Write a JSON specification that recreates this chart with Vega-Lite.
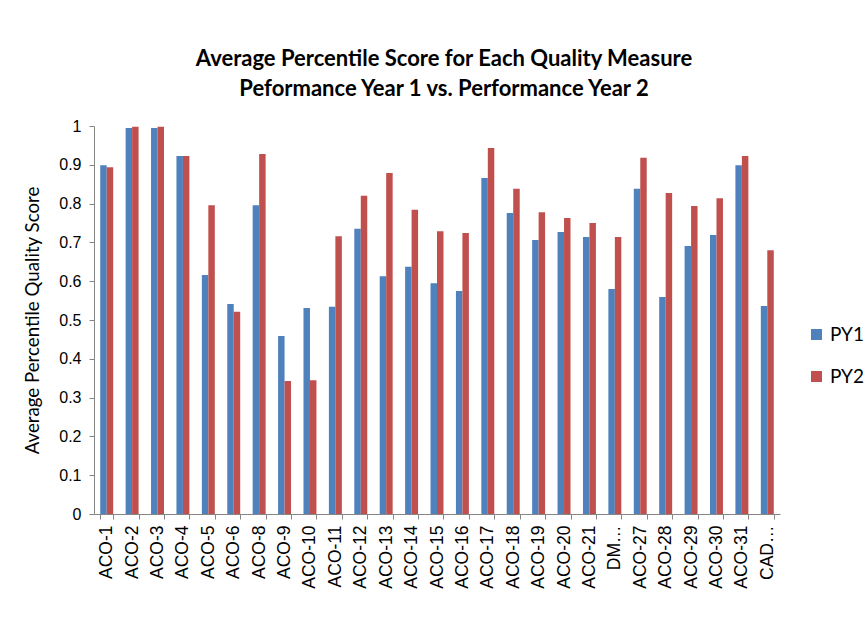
{
  "$schema": "https://vega.github.io/schema/vega-lite/v6.json",
  "autosize": {"type": "none"},
  "padding": {"left": 94, "top": 126, "right": 87, "bottom": 112},
  "width": 686,
  "height": 388,
  "background": "white",
  "title": {
    "text": ["Average Percentile Score for Each Quality Measure", "Peformance Year 1 vs. Performance Year 2"],
    "font": "Lato",
    "fontSize": 22,
    "fontWeight": "bold",
    "color": "black",
    "anchor": "middle",
    "offset": 17,
    "dx": 7,
    "lineHeight": 30
  },
  "data": {
    "values": [
      {"m": "ACO-1", "s": "PY1", "v": 0.899}, {"m": "ACO-1", "s": "PY2", "v": 0.894},
      {"m": "ACO-2", "s": "PY1", "v": 0.995}, {"m": "ACO-2", "s": "PY2", "v": 0.998},
      {"m": "ACO-3", "s": "PY1", "v": 0.995}, {"m": "ACO-3", "s": "PY2", "v": 0.998},
      {"m": "ACO-4", "s": "PY1", "v": 0.923}, {"m": "ACO-4", "s": "PY2", "v": 0.923},
      {"m": "ACO-5", "s": "PY1", "v": 0.616}, {"m": "ACO-5", "s": "PY2", "v": 0.796},
      {"m": "ACO-6", "s": "PY1", "v": 0.541}, {"m": "ACO-6", "s": "PY2", "v": 0.521},
      {"m": "ACO-8", "s": "PY1", "v": 0.796}, {"m": "ACO-8", "s": "PY2", "v": 0.928},
      {"m": "ACO-9", "s": "PY1", "v": 0.459}, {"m": "ACO-9", "s": "PY2", "v": 0.343},
      {"m": "ACO-10", "s": "PY1", "v": 0.531}, {"m": "ACO-10", "s": "PY2", "v": 0.345},
      {"m": "ACO-11", "s": "PY1", "v": 0.534}, {"m": "ACO-11", "s": "PY2", "v": 0.716},
      {"m": "ACO-12", "s": "PY1", "v": 0.735}, {"m": "ACO-12", "s": "PY2", "v": 0.820},
      {"m": "ACO-13", "s": "PY1", "v": 0.613}, {"m": "ACO-13", "s": "PY2", "v": 0.879},
      {"m": "ACO-14", "s": "PY1", "v": 0.637}, {"m": "ACO-14", "s": "PY2", "v": 0.784},
      {"m": "ACO-15", "s": "PY1", "v": 0.595}, {"m": "ACO-15", "s": "PY2", "v": 0.729},
      {"m": "ACO-16", "s": "PY1", "v": 0.575}, {"m": "ACO-16", "s": "PY2", "v": 0.724},
      {"m": "ACO-17", "s": "PY1", "v": 0.866}, {"m": "ACO-17", "s": "PY2", "v": 0.943},
      {"m": "ACO-18", "s": "PY1", "v": 0.776}, {"m": "ACO-18", "s": "PY2", "v": 0.838},
      {"m": "ACO-19", "s": "PY1", "v": 0.706}, {"m": "ACO-19", "s": "PY2", "v": 0.778},
      {"m": "ACO-20", "s": "PY1", "v": 0.727}, {"m": "ACO-20", "s": "PY2", "v": 0.763},
      {"m": "ACO-21", "s": "PY1", "v": 0.714}, {"m": "ACO-21", "s": "PY2", "v": 0.750},
      {"m": "DM…", "s": "PY1", "v": 0.580}, {"m": "DM…", "s": "PY2", "v": 0.714},
      {"m": "ACO-27", "s": "PY1", "v": 0.838}, {"m": "ACO-27", "s": "PY2", "v": 0.918},
      {"m": "ACO-28", "s": "PY1", "v": 0.559}, {"m": "ACO-28", "s": "PY2", "v": 0.827},
      {"m": "ACO-29", "s": "PY1", "v": 0.691}, {"m": "ACO-29", "s": "PY2", "v": 0.794},
      {"m": "ACO-30", "s": "PY1", "v": 0.719}, {"m": "ACO-30", "s": "PY2", "v": 0.814},
      {"m": "ACO-31", "s": "PY1", "v": 0.899}, {"m": "ACO-31", "s": "PY2", "v": 0.923},
      {"m": "CAD…", "s": "PY1", "v": 0.536}, {"m": "CAD…", "s": "PY2", "v": 0.680}
    ]
  },
  "mark": {"type": "bar"},
  "encoding": {
    "x": {
      "field": "m", "type": "nominal", "sort": null, "title": null,
      "scale": {"paddingInner": 0.49, "paddingOuter": 0.245},
      "axis": {
        "labelAngle": -90, "labelAlign": "right", "labelBaseline": "middle",
        "labelFont": "Liberation Sans", "labelFontSize": 17.5, "labelColor": "black",
        "labelPadding": 6, "tickBand": "extent", "tickSize": 5,
        "domainColor": "#868686", "tickColor": "#868686", "labelOverlap": false
      }
    },
    "xOffset": {"field": "s", "type": "nominal", "scale": {"paddingInner": 0, "paddingOuter": 0}},
    "y": {
      "field": "v", "type": "quantitative",
      "title": "Average Percentile Quality Score",
      "scale": {"domain": [0, 1], "nice": false},
      "axis": {
        "values": [0, 0.1, 0.2, 0.3, 0.4, 0.5, 0.6, 0.7, 0.8, 0.9, 1],
        "format": ".1~f", "grid": false,
        "labelFont": "Liberation Sans", "labelFontSize": 16, "labelColor": "black",
        "labelPadding": 8, "tickSize": 5,
        "domainColor": "#868686", "tickColor": "#868686",
        "titleFont": "Lato", "titleFontSize": 18.7, "titleFontWeight": "normal",
        "titleColor": "black", "titlePadding": 16
      }
    },
    "color": {
      "field": "s", "type": "nominal",
      "scale": {"domain": ["PY1", "PY2"], "range": ["#4F81BD", "#C0504D"]},
      "legend": {
        "title": null, "orient": "none", "legendX": 713, "legendY": 199,
        "symbolType": "square", "symbolSize": 121, "symbolStrokeWidth": 0,
        "labelFont": "Lato", "labelFontSize": 19, "labelColor": "black",
        "rowPadding": 22, "labelOffset": 4
      }
    }
  },
  "config": {"view": {"stroke": null}}
}
